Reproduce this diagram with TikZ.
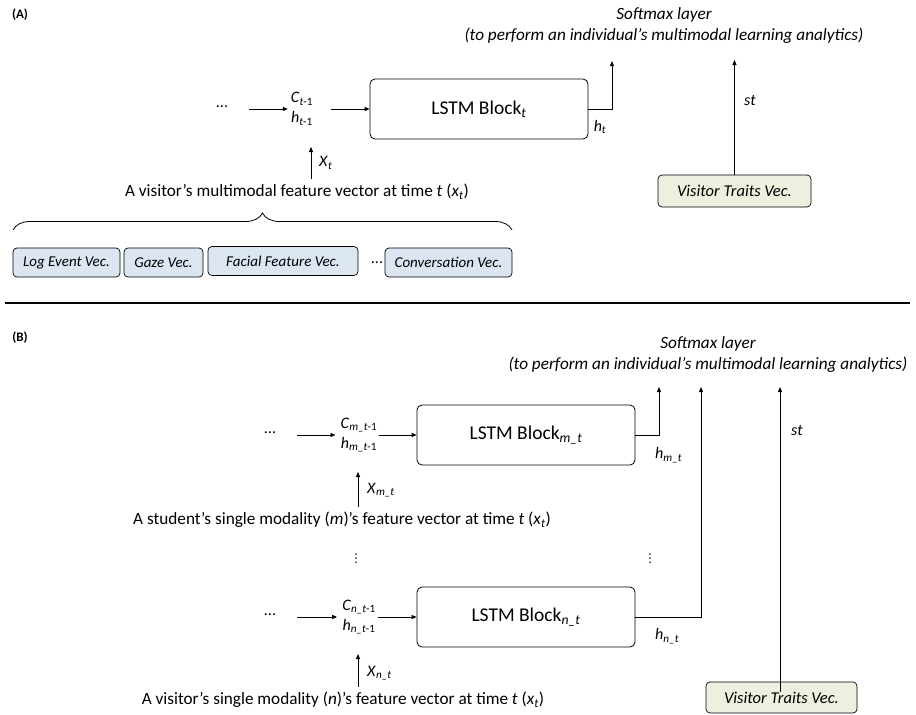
\documentclass[tikz,border=0pt]{standalone}
\usepackage{fontspec}
\setmainfont{Carlito}
\newfontfamily\djv{DejaVu Sans}
\usetikzlibrary{arrows.meta,decorations.pathreplacing,calc}
\definecolor{vecblue}{HTML}{DCE6F2}
\definecolor{vecgreen}{HTML}{EBF1DE}
\newcommand{\isub}[1]{\textsubscript{#1}}
\begin{document}
\begin{tikzpicture}[x=1pt,y=-1pt,
  arr/.style={-{Triangle[length=5pt,width=4pt]},line width=0.8pt},
  plain/.style={inner sep=1pt,font=\fontsize{17.2}{20}\selectfont},
  lbl/.style={inner sep=1pt,font=\fontsize{16}{20}\selectfont,align=center},
  lstm/.style={draw,line width=0.8pt,rounded corners=5pt,minimum width=218pt,minimum height=60pt,font=\fontsize{19.5}{24}\selectfont},
  vecbox/.style={draw,line width=0.7pt,rounded corners=4pt,fill=vecblue,minimum height=29pt,inner sep=1pt,font=\fontsize{15}{17}\selectfont\itshape},
  trait/.style={draw,line width=0.7pt,rounded corners=4pt,fill=vecgreen,minimum height=31pt,inner sep=1pt,font=\fontsize{16.5}{18}\selectfont\itshape},
  soft/.style={inner sep=1pt,font=\fontsize{17.2}{21}\selectfont\itshape,align=center},
  vd/.style={inner sep=0pt,font=\djv\fontsize{12}{12}\selectfont},
  head/.style={inner sep=1pt,font=\fontsize{13}{15}\selectfont\bfseries}]
\useasboundingbox (0,0) rectangle (916,715);
% ---------- (A)
\node[head] (labA) at (20,15) {(A)};
\node[soft] (smxA) at (664,26) {Softmax layer\\(to perform an individual’s multimodal learning analytics)};
\node[lbl] (dotsA) at (222,107) {...};
\node[lbl] (chA) at (302,109) {\textit{C}\isub{\textit{t}-1}\\\textit{h}\isub{\textit{t}-1}};
\node[lstm] (lstmA) at (479,109) {LSTM Block\isub{\textit{t}}};
\coordinate (smA) at (612,61);
\node[lbl] (htA) at (600,127) {\textit{h}\isub{\textit{t}}};
\draw[arr] ([xshift=20pt]dotsA.east |- chA.west) -- ([xshift=-2pt]chA.west);
\draw[arr] ([xshift=17pt]chA.east) -- (lstmA.west);
\draw[arr] (lstmA.east) -| (smA);
\node[plain] (featA) at (297,192) {A visitor’s multimodal feature vector at time \textit{t} (\textit{x}\isub{\textit{t}})};
\coordinate (xinA) at (311,147);
\draw[arr] (featA.north -| xinA) ++(0,-4) -- (xinA);
\node[lbl,anchor=west] (xA) at (318,163) {\textit{X}\isub{\textit{t}}};
\draw[line width=0.8pt,decorate,decoration={brace,amplitude=17pt}] (13,230) -- (512,230);
\node[vecbox,minimum width=107pt] (logv) at (66.5,262.5) {Log Event Vec.};
\node[vecbox,minimum width=79pt] (gazev) at (163.5,262.5) {Gaze Vec.};
\node[vecbox,minimum width=150pt] (facev) at (283,261) {Facial Feature Vec.};
\node[lbl] (dotsV) at (377,263) {...};
\node[vecbox,minimum width=127pt] (convv) at (448.5,262.5) {Conversation Vec.};
\node[trait,minimum width=153pt,minimum height=32pt] (vtA) at (734.5,191) {Visitor Traits Vec.};
\coordinate (stA) at (734.5,60);
\draw[arr] (vtA.north) -- (stA);
\node[lbl,anchor=west] (stlA) at (743,100) {\textit{st}};
% separator
\draw[line width=2pt] (5,303) -- (910,303);
% ---------- (B)
\node[head] (labB) at (20,338) {(B)};
\node[soft] (smxB) at (708,354) {Softmax layer\\(to perform an individual’s multimodal learning analytics)};
% row m
\node[lbl] (dotsB1) at (270,433) {...};
\node[lbl] (chB1) at (359,435) {\textit{C}\isub{\textit{m\_t}-1}\\\textit{h}\isub{\textit{m\_t}-1}};
\node[lstm] (lstmB1) at (526,435) {LSTM Block\isub{\textit{m\_t}}};
\coordinate (smB1) at (659,387);
\draw[arr] ([xshift=20pt]dotsB1.east |- chB1.west) -- ([xshift=-4pt]chB1.west);
\draw[arr] ([xshift=1pt]chB1.east) -- (lstmB1.west);
\draw[arr] (lstmB1.east) -| (smB1);
\node[lbl,anchor=west] (hB1) at (654,455) {\textit{h}\isub{\textit{m\_t}}};
\node[plain] (featB1) at (342,520) {A student’s single modality (\textit{m})’s feature vector at time \textit{t} (\textit{x}\isub{\textit{t}})};
\coordinate (xinB1) at (358,472);
\draw[arr] (featB1.north -| xinB1) ++(0,-4) -- (xinB1);
\node[lbl,anchor=west] (xB1) at (366,490) {\textit{X}\isub{\textit{m\_t}}};
\node[vd] (vd1) at (356,559) {⋮};
\node[vd] (vd2) at (650,559) {⋮};
% row n
\node[lbl] (dotsB2) at (270,615) {...};
\node[lbl] (chB2) at (359,617) {\textit{C}\isub{\textit{n\_t}-1}\\\textit{h}\isub{\textit{n\_t}-1}};
\node[lstm] (lstmB2) at (526,617) {LSTM Block\isub{\textit{n\_t}}};
\coordinate (smB2) at (701,387);
\draw[arr] ([xshift=20pt]dotsB2.east |- chB2.west) -- ([xshift=-4pt]chB2.west);
\draw[arr] ([xshift=1pt]chB2.east) -- (lstmB2.west);
\draw[arr] (lstmB2.east) -| (smB2);
\node[lbl,anchor=west] (hB2) at (654,636) {\textit{h}\isub{\textit{n\_t}}};
\node[plain] (featB2) at (343,700) {A visitor’s single modality (\textit{n})’s feature vector at time \textit{t} (\textit{x}\isub{\textit{t}})};
\coordinate (xinB2) at (358,654);
\draw[arr] (featB2.north -| xinB2) ++(0,-4) -- (xinB2);
\node[lbl,anchor=west] (xB2) at (366,673) {\textit{X}\isub{\textit{n\_t}}};
\node[trait,minimum width=151pt] (vtB) at (781.5,697.5) {Visitor Traits Vec.};
\coordinate (stB) at (780,387);
\draw[arr] ([yshift=-10pt]vtB.north -| stB) -- (stB);
\node[lbl,anchor=west] (stlB) at (790,430) {\textit{st}};
\end{tikzpicture}
\end{document}
